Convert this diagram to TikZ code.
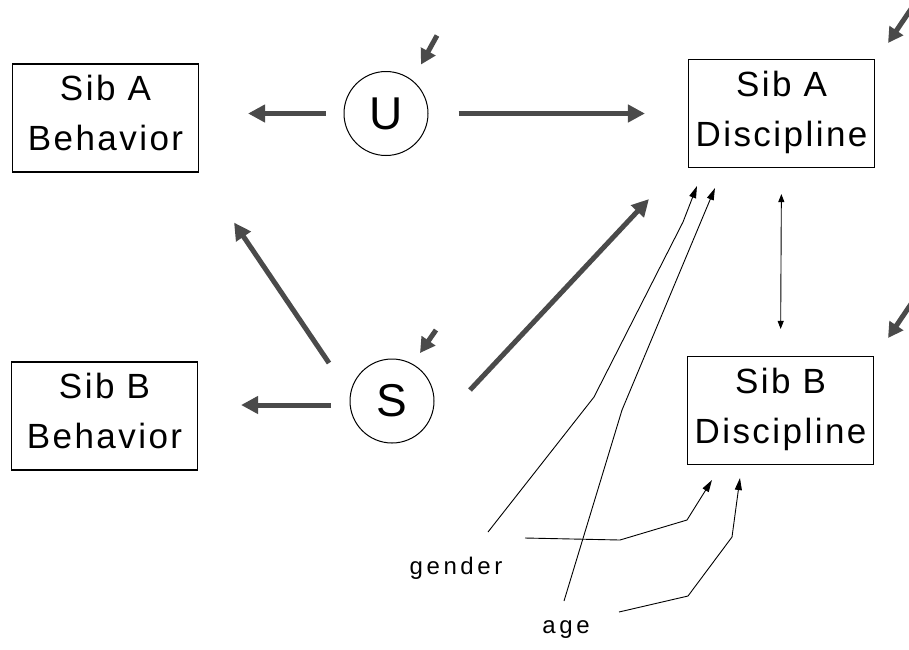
\documentclass[tikz,border=0pt]{standalone}
\usepackage{fontspec}
\setmainfont{Liberation Sans}
\newfontfamily\boxfont[LetterSpace=7]{Liberation Sans}
\newfontfamily\labelfont[LetterSpace=15]{Liberation Sans}
\usetikzlibrary{arrows.meta,calc}
\definecolor{arrowgray}{HTML}{4A4A4A}

\begin{document}
\begin{tikzpicture}[x=1pt,y=-1pt,
  varbox/.style={draw, line width=1.1pt, minimum width=186pt, minimum height=108pt,
    align=center, inner sep=0pt, text depth=10pt,
    font=\boxfont\fontsize{35}{50}\selectfont},
  latent/.style={draw, circle, line width=1pt, minimum size=84pt, inner sep=0pt,
    font=\fontsize{46}{46}\selectfont},
  covlabel/.style={inner sep=0pt, font=\labelfont\fontsize{24}{24}\selectfont},
  bigarrow/.style={draw=arrowgray, line width=5pt, -{Triangle[length=17pt,width=17pt]}},
  exoarrow/.style={draw=arrowgray, line width=5pt, -{Triangle[length=15pt,width=16pt]}},
  thinarrow/.style={line width=0.9pt, -{Triangle[length=12pt,width=7pt]}},
  twoway/.style={line width=0.9pt, {Triangle[length=8pt,width=6pt]}-{Triangle[length=8pt,width=6pt]}}]

\useasboundingbox (0,0) rectangle (909,649);

% observed variables
\node[varbox] (sabeh) at (105.5,118) {Sib A\\Behavior};
\node[varbox] (sbbeh) at (104.5,416) {Sib B\\Behavior};
\node[varbox] (sadis) at (781.5,113.5) {Sib A\\Discipline};
\node[varbox] (sbdis) at (780.5,410.5) {Sib B\\Discipline};

% latent factors
\node[latent] (U) at (386,113.5) {U};
\node[latent] (S) at (392,401) {S};

% covariates
\node[covlabel] (gender) at (456,568) {gender};
\node[covlabel] (age) at (566,630) {age};

% paths from the latent factors
\draw[bigarrow, shorten <=18pt, shorten >=49pt] (U.west) -- (U.west -| sabeh.east);
\draw[bigarrow, shorten <=30pt, shorten >=43pt] (U.east) -- (U.east -| sadis.west);
\draw[bigarrow, shorten <=19pt, shorten >=43pt] ($(S.west)+(0,4)$) -- ($(S.west -| sbbeh.east)+(0,4)$);
\draw[bigarrow] ($(S)+(-63,-38)$) -- ($(sabeh.south east)+(35,50)$);
\draw[bigarrow] ($(S)+(78,-11)$) -- ($(sadis.south west)+(-39,31)$);

% residual arrows
\coordinate (ures) at ($(U)+(51,-78)$);
\coordinate (sres) at ($(S)+(44,-71)$);
\coordinate (ares) at ($(sadis.north east)+(36,-50)$);
\coordinate (bres) at ($(sbdis.north east)+(37,-52)$);
\draw[exoarrow] (ures) -- ($(U)+(35,-49)$);
\draw[exoarrow] (sres) -- ($(S)+(28,-48)$);
\draw[exoarrow] (ares) -- ($(sadis.north east)+(13,-16)$);
\draw[exoarrow] (bres) -- ($(sbdis.north east)+(14,-18)$);

% correlation between the two discipline measures
\draw[twoway, shorten <=26pt, shorten >=27pt] (sadis.south) -- (sbdis.north);

% covariate effects
\draw[thinarrow] ($(gender)+(32,-36)$) -- (594,397) -- (683,222) -- ($(sadis.south west)+(9,18)$);
\draw[thinarrow] ($(age)+(-2,-29)$) -- (622,410) -- ($(sadis.south west)+(27,20)$);
\draw[thinarrow] ($(gender)+(69,-30)$) -- (620,540) -- (687,520) -- ($(sbdis.south west)+(25,15)$);
\draw[thinarrow] ($(age)+(53,-18)$) -- (688,596) -- (732,537) -- ($(sbdis.south west)+(53,13)$);

\end{tikzpicture}
\end{document}
